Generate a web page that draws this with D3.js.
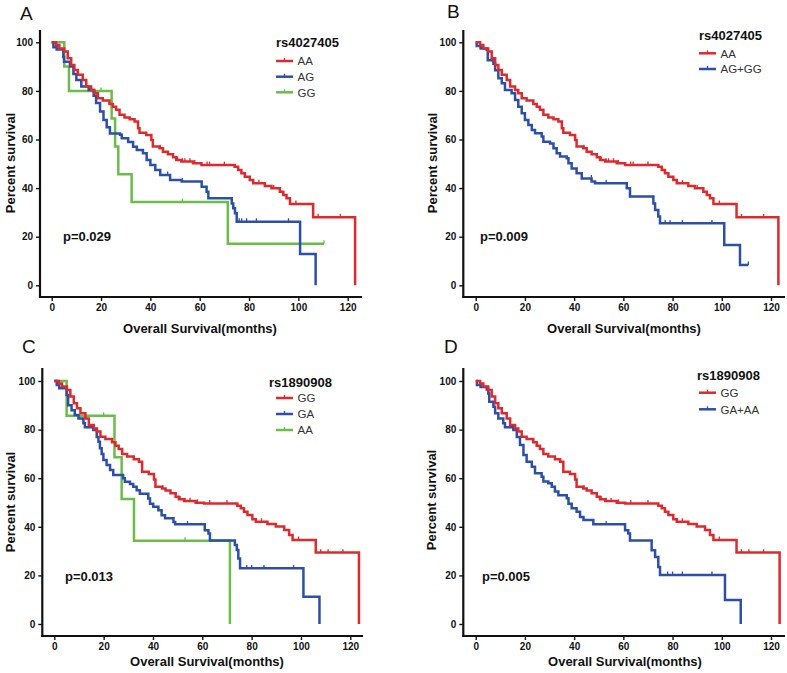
<!DOCTYPE html>
<html><head><meta charset="utf-8">
<script src="https://cdn.jsdelivr.net/npm/d3@7"></script>
<style>body{margin:0;background:#fff}svg{display:block}text{font-family:"Liberation Sans",Arial,sans-serif}</style>
</head><body><svg id="c" width="787" height="673"></svg>
<script>
// ---- data (months, percent survival after each step) ----
const xTicks = [0, 20, 40, 60, 80, 100, 120];
const yTicks = [0, 20, 40, 60, 80, 100];

// rs4027405 AA (panels A, B)
const aaT = [0,1.8,3.1,5.1,6.5,7.9,9.2,10.6,12.6,14,16,17.3,18.7,20.7,23.4,24.8,26.1,27.5,29.5,31.6,33.6,35,35.6,38.3,40.4,41,43.7,45.1,47.1,49.2,50.5,52.6,57.3,60.7,74.2,75.6,76.9,78.3,80.3,81.7,86.4,89.1,92.5,93.9,95.2,96.6,106,123];
const aaS = [100,98.9,97.5,96.2,93.4,90.7,88.6,86.6,84.5,81.8,80.4,79,77,76,74.6,73.5,72.2,70.2,69.1,68.3,67.4,64.6,62.8,61.9,59.8,57.1,56.4,55,53.9,52.7,51.6,50.9,50.2,49.5,48.8,47.5,46.1,44.7,43.3,42,40.9,39.9,38.5,37.2,35.8,33.5,28,0];
const aaC = [44,51,53,54,56,58,63,64,70,84,90,99,108,117];

// rs4027405 AG (panel A)
const agT = [0,0.7,2,4.7,5,7.4,8.8,10,12,15,17,18,19.6,21,22.3,23.6,27.7,28.4,31,33,34.5,37,38.5,40,42,44,48,52.7,60.8,62.8,63.5,73,73.6,74.3,75,100.7,107];
const agS = [100,98,97,94,92,90,87,84.5,81.8,80.4,78,75,71.5,68,65,62.5,62,60.5,59,57,55.7,54.3,51.6,49.5,47.5,45.4,43.3,42.7,40.6,38.5,35.8,33.7,31.7,29.6,26.2,12.9,0];
const agC = [47,53,76,77,79,83,96];

// rs4027405 GG (panel A)
const ggT = [0,5.1,7,24.3,25.7,27,32.4,71.4];
const ggS = [100,90,80,68.6,57.1,45.7,34.3,17.1];
const ggC = [20,53,110.4];

// rs4027405 AG+GG (panel B)
const aggT = [0,0.4,2,4.5,4.9,7.2,7.9,9.2,10.6,11.9,14.6,16,17.3,18.7,20,21.4,22.8,24.1,26.8,27.5,30.2,31.6,32.9,34.3,37,37.7,39,41,43.1,47.1,48.5,61.4,62.7,72.2,72.9,74.2,74.9,101,107.4];
const aggS = [100,98.5,97.5,96.8,92.6,91.2,88.5,85.2,83.1,80.4,79,76.3,73.5,70.8,68,66,63.9,62.6,61.2,59.1,58.4,56.4,54.3,53,52.3,50.2,48.1,46.1,44,42.7,42,39.9,36.5,33.7,31,28.3,25.5,16.6,8.4];
const aggC = [47,53,77,79,84,96,110.8];

// rs1890908 GG (panels C, D)
const gT = [0,1.8,3.1,5.1,6.5,7.9,9.2,10.6,12.6,14,16,17.3,18.7,20.7,23.4,24.8,26.1,27.5,29.5,32.2,34.3,35.6,38.3,40.4,41,43.7,45.1,47.1,49.2,50.5,52.6,57.3,60.7,74.2,75.6,76.9,78.3,80.3,81.7,86.4,89.8,93.2,95.2,96.6,106,123.5];
const gS = [100,99,97.7,96.3,93.6,90.8,88.8,86.7,84.6,81.9,80.5,79.2,77.1,76.1,74.8,73.4,72,70,68.9,67.8,66.8,62.7,61.7,59.5,56.5,55.8,54.9,53.8,52.4,51.3,50.6,49.9,49.6,48.7,47.6,46.2,44.9,43.1,42.1,41.2,40.1,38.7,36.6,34.6,29.4,0];
const gC = [44,51,53,55,58,63,70,84,90,99,108,111,117];

// rs1890908 GA (panel C)
const gaT = [0,1,2,5,5.6,7,8.3,9.8,11.8,12.4,15.8,17.2,17.9,18.5,19.2,19.9,21.2,22.6,23.9,27.9,28.6,30.7,32,33.4,34.7,38.1,38.8,40.1,42.2,43.5,44.9,48.3,49,61,62.5,63.1,73.2,74,74.6,75.3,101,107.5];
const gaS = [100,98.4,97,94.2,90,88,86,84.6,82.6,81,79.8,77,75,72.3,70,67.5,65.4,63.4,61.3,60,58.5,57.6,56.5,55,53.6,51.6,49.5,48.2,46.8,44.8,43.5,42,41,38.6,37.2,34.4,32.5,30.5,27,22.9,11.2,0];
const gaC = [54,78,80,85,97];

// rs1890908 AA (panel C)
const a2T = [0,5,24.4,27.3,32.3,71.2];
const a2S = [100,85.7,68.6,51.4,34.3,0];
const a2C = [20,53];

// rs1890908 GA+AA (panel D)
const gaaT = [0,0.5,2,4.5,5.1,5.5,7.2,7.9,9.2,11.2,11.9,15.3,16.7,18,19.4,20.7,22.8,24.1,26.8,27.5,29.5,30.9,32.2,33.6,37,37.7,39,41,42.4,43.8,47.8,60.7,62,62.7,71.5,72.9,74.2,74.9,101.3,107.7];
const gaaS = [100,98.4,97.5,96.5,94.9,91.5,89.4,86.7,84.6,82.6,81,79.8,77,73.7,69.5,66.8,64.7,62,60.6,58.6,57.9,56.5,54.5,53,51.7,49.5,47.6,46.2,44,42.8,41,38.6,37.2,34.4,30.3,27.6,23.5,20.2,9.9,0];
const gaaC = [53,78,80,84,96];

const RED = "#dd2a2e", BLUE = "#2d4fa6", GREEN = "#6bbd4a";

const panels = [
  {letter:"A", lx:20, ly:20, ax:40, xr:[51.7,347.7], right:362, yr:[285.3,42.3], top:30, base:297,
   ytx:10, yty:163, xtx:200, xty:333, px:63, py:241, snp:"rs4027405", lgx:276, lgy:47, rows:[61,76.7,92.3],
   series:[{n:"AA",t:aaT,s:aaS,c:aaC,col:RED},{n:"AG",t:agT,s:agS,c:agC,col:BLUE},{n:"GG",t:ggT,s:ggS,c:ggC,col:GREEN,end:110.4}],
   p:"p=0.029"},
  {letter:"B", lx:447, ly:18, ax:463.3, xr:[475.7,771], right:785, yr:[285.3,42.3], top:30, base:297,
   ytx:432, yty:163, xtx:624, xty:333, px:480, py:241, snp:"rs4027405", lgx:699, lgy:40, rows:[53.3,69],
   series:[{n:"AA",t:aaT,s:aaS,c:aaC,col:RED},{n:"AG+GG",t:aggT,s:aggS,c:aggC,col:BLUE,end:110.8}],
   p:"p=0.009"},
  {letter:"C", lx:22, ly:353, ax:42.3, xr:[54.3,350.3], right:363, yr:[624,381], top:368, base:636,
   ytx:10, yty:502, xtx:207, xty:666, px:65, py:581, snp:"rs1890908", lgx:269, lgy:386.5, rows:[398,414,430],
   series:[{n:"GG",t:gT,s:gS,c:gC,col:RED},{n:"GA",t:gaT,s:gaS,c:gaC,col:BLUE},{n:"AA",t:a2T,s:a2S,c:a2C,col:GREEN}],
   p:"p=0.013"},
  {letter:"D", lx:444, ly:353, ax:463.3, xr:[475.7,771], right:785, yr:[624,381], top:368, base:636,
   ytx:431, yty:500, xtx:625, xty:666, px:482, py:581, snp:"rs1890908", lgx:697, lgy:380, rows:[392.7,409.3],
   series:[{n:"GG",t:gT,s:gS,c:gC,col:RED},{n:"GA+AA",t:gaaT,s:gaaS,c:gaaC,col:BLUE}],
   p:"p=0.005"}
];

const svg = d3.select("#c");

function survAt(t, times, surv){
  let v = surv[0];
  for (let i=0;i<times.length;i++){ if (times[i] <= t) v = surv[i]; }
  return v;
}

panels.forEach(P => {
  const g = svg.append("g");
  const x = d3.scaleLinear().domain([0,120]).range(P.xr);
  const y = d3.scaleLinear().domain([0,100]).range(P.yr);

  // axes
  const xa = g.append("g").attr("transform",`translate(0,${P.base})`)
    .call(d3.axisBottom(x).tickValues(xTicks).tickSize(4).tickPadding(3));
  const ya = g.append("g").attr("transform",`translate(${P.ax},0)`)
    .call(d3.axisLeft(y).tickValues(yTicks).tickSize(4).tickPadding(3));
  [xa,ya].forEach(a=>{
    a.select(".domain").remove();
    a.selectAll("line").attr("stroke","#111").attr("stroke-width",1.4);
    a.selectAll("text").attr("font-size",10).attr("font-weight","bold").attr("fill","#111")
      .style("font-family",'"Liberation Sans",Arial,sans-serif');
  });
  g.append("line").attr("x1",P.ax).attr("x2",P.ax).attr("y1",P.top).attr("y2",P.base+1)
    .attr("stroke","#111").attr("stroke-width",2.2);
  g.append("line").attr("x1",P.ax-1).attr("x2",P.right).attr("y1",P.base).attr("y2",P.base)
    .attr("stroke","#111").attr("stroke-width",2.2);

  // curves
  const line = d3.line().x(d=>x(d[0])).y(d=>y(d[1])).curve(d3.curveStepAfter);
  P.series.slice().reverse().forEach(S => {
    const pts = S.t.map((t,i)=>[t,S.s[i]]);
    if (S.end !== undefined) pts.push([S.end, S.s[S.s.length-1]]);
    g.append("path").attr("d", line(pts)).attr("fill","none").attr("stroke",S.col)
      .attr("stroke-width",2.5).attr("stroke-linejoin","miter").attr("stroke-linecap","butt");
    g.selectAll(null).data(S.c).enter().append("line")
      .attr("x1",d=>x(d)).attr("x2",d=>x(d))
      .attr("y1",d=>y(survAt(d,S.t,S.s))-3.4).attr("y2",d=>y(survAt(d,S.t,S.s)))
      .attr("stroke",S.col).attr("stroke-width",1.3);
  });

  // texts
  g.append("text").attr("x",P.lx).attr("y",P.ly).attr("font-size",19).attr("fill","#111").text(P.letter);
  g.append("text").attr("transform",`translate(${P.ytx},${P.yty}) rotate(-90)`).attr("text-anchor","middle")
    .attr("dy","0.35em").attr("font-size",13).attr("font-weight","bold").attr("fill","#111").text("Percent survival");
  g.append("text").attr("x",P.xtx).attr("y",P.xty).attr("text-anchor","middle")
    .attr("font-size",13).attr("font-weight","bold").attr("fill","#111").text("Overall Survival(months)");
  g.append("text").attr("x",P.px).attr("y",P.py).attr("font-size",13).attr("font-weight","bold").attr("fill","#111").text(P.p);

  // legend
  g.append("text").attr("x",P.lgx).attr("y",P.lgy).attr("font-size",13).attr("font-weight","bold").attr("fill","#111").text(P.snp);
  const lx0 = P.letter==="A"||P.letter==="C" ? 276 : 699;
  P.series.forEach((S,i)=>{
    const ry = P.rows[i];
    g.append("line").attr("x1",lx0).attr("x2",lx0+17).attr("y1",ry).attr("y2",ry).attr("stroke",S.col).attr("stroke-width",2.5);
    g.append("line").attr("x1",lx0+8.5).attr("x2",lx0+8.5).attr("y1",ry-3).attr("y2",ry).attr("stroke",S.col).attr("stroke-width",1.3);
    g.append("text").attr("x",lx0+21.5).attr("y",ry+4.2).attr("font-size",11.5).attr("fill","#333").text(S.n);
  });
});
</script></body></html>
